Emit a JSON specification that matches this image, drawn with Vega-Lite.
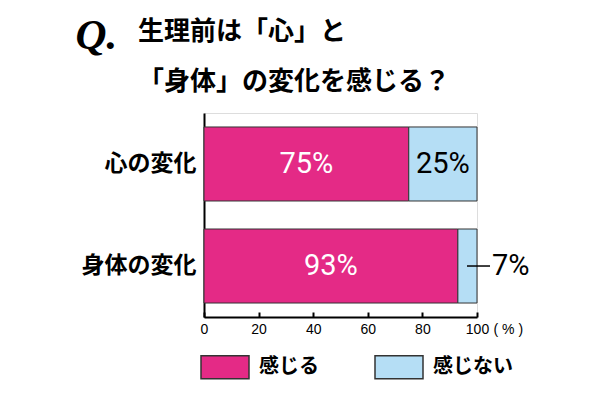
{
  "$schema": "https://vega.github.io/schema/vega-lite/v6.json",
  "width": 273,
  "height": 204,
  "autosize": {"type": "none"},
  "padding": {"left": 204, "top": 113, "right": 133, "bottom": 83},
  "background": "white",
  "title": {
    "text": ["生理前は「心」と", "「身体」の変化を感じる？"],
    "anchor": "start",
    "frame": "group",
    "dx": -66,
    "dy": 81,
    "font": "Noto Sans CJK JP",
    "fontSize": 26,
    "fontWeight": "bold",
    "color": "black",
    "lineHeight": 50,
    "baseline": "top",
    "offset": 0
  },
  "data": {
    "values": [
      {"item": "心の変化", "resp": "感じる", "value": 75, "label": "75%"},
      {"item": "心の変化", "resp": "感じない", "value": 25, "label": "25%"},
      {"item": "身体の変化", "resp": "感じる", "value": 93, "label": "93%"},
      {"item": "身体の変化", "resp": "感じない", "value": 7, "label": "7%"}
    ]
  },
  "transform": [
    {"stack": "value", "groupby": ["item"], "sort": [{"field": "resp", "order": "descending"}], "as": ["v0", "v1"]}
  ],
  "encoding": {
    "y": {
      "field": "item",
      "type": "nominal",
      "sort": ["心の変化", "身体の変化"],
      "scale": {"paddingInner": 0.2745, "paddingOuter": 0.137},
      "axis": {
        "title": "Q.",
        "titleFont": "Liberation Serif",
        "titleFontStyle": "italic",
        "titleFontWeight": "bold",
        "titleFontSize": 43,
        "titleColor": "black",
        "titleAngle": 0,
        "titleAlign": "left",
        "titleBaseline": "alphabetic",
        "titleX": -129,
        "titleY": -65,
        "domain": true,
        "domainColor": "black",
        "domainWidth": 2,
        "ticks": false,
        "labelFont": "Noto Sans CJK JP",
        "labelFontSize": 23,
        "labelFontWeight": "bold",
        "labelColor": "black",
        "labelPadding": 8,
        "grid": false
      }
    }
  },
  "layer": [
    {
      "mark": {"type": "bar", "stroke": "#333333", "strokeWidth": 1},
      "encoding": {
        "x": {
          "field": "v0",
          "type": "quantitative",
          "scale": {"domain": [0, 100], "nice": false},
          "axis": {
            "values": [0, 20, 40, 60, 80, 100],
            "title": "( % )",
            "titleFont": "Liberation Sans",
            "titleFontSize": 14,
            "titleFontWeight": "normal",
            "titleColor": "black",
            "titleAlign": "left",
            "titleBaseline": "alphabetic",
            "titleX": 289,
            "titleY": 16,
            "domainColor": "black",
            "domainWidth": 2,
            "tickColor": "black",
            "tickWidth": 2,
            "tickSize": -5,
            "labelFlush": false,
            "labelFont": "Liberation Sans",
            "labelFontSize": 14,
            "labelColor": "black",
            "labelPadding": 10,
            "grid": false
          }
        },
        "x2": {"field": "v1"},
        "color": {
          "field": "resp",
          "type": "nominal",
          "scale": {"domain": ["感じる", "感じない"], "range": ["#E42A86", "#B5DEF5"]},
          "legend": {
            "title": null,
            "orient": "none",
            "direction": "horizontal",
            "legendX": -4,
            "legendY": 229,
            "symbolType": "M-1,-0.479H1V0.479H-1Z",
            "symbolSize": 2304,
            "symbolStrokeColor": "#333333",
            "symbolStrokeWidth": 1.5,
            "symbolOpacity": 1,
            "labelFont": "Noto Sans CJK JP",
            "labelFontSize": 20,
            "labelFontWeight": "bold",
            "labelColor": "black",
            "labelOffset": 9,
            "columnPadding": 53
          }
        }
      }
    },
    {
      "transform": [
        {"filter": "datum.value >= 10"},
        {"fold": ["v0", "v1"], "as": ["edge", "pos"]}
      ],
      "mark": {"type": "text", "font": "Roboto", "fontSize": 29, "baseline": "middle", "align": "center"},
      "encoding": {
        "x": {"aggregate": "mean", "field": "pos", "type": "quantitative"},
        "text": {"field": "label", "type": "nominal"},
        "detail": {"field": "resp", "type": "nominal"},
        "color": {"condition": {"test": "datum.resp === '感じる'", "value": "white"}, "value": "black"}
      }
    },
    {
      "transform": [{"filter": "datum.value < 10"}],
      "mark": {"type": "rule", "color": "black", "strokeWidth": 1.5, "xOffset": -10, "x2Offset": 13},
      "encoding": {
        "x": {"datum": 100, "type": "quantitative"},
        "x2": {"datum": 100}
      }
    },
    {
      "transform": [{"filter": "datum.value < 10"}],
      "mark": {"type": "text", "font": "Roboto", "fontSize": 29, "baseline": "middle", "align": "left", "dx": 15, "color": "black"},
      "encoding": {
        "x": {"datum": 100, "type": "quantitative"},
        "text": {"field": "label", "type": "nominal"}
      }
    }
  ]
}
